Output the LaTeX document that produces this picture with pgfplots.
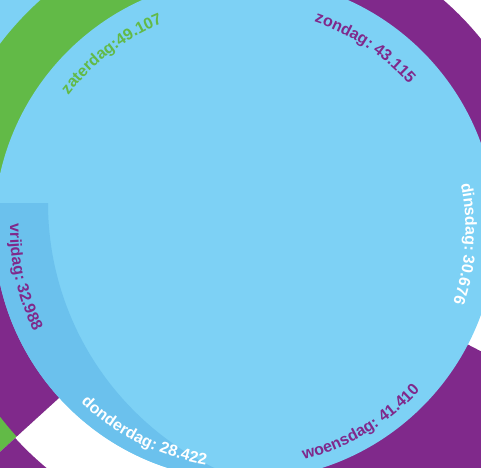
\documentclass[border=0pt]{standalone}
\usepackage{pgfplots}
\pgfplotsset{compat=1.18}
\usepackage{fontspec}
\setmainfont{Liberation Sans}
\usetikzlibrary{decorations.text}
\definecolor{lb}{RGB}{125,209,245}
\definecolor{db}{RGB}{107,193,237}
\definecolor{pu}{RGB}{128,41,139}
\definecolor{gr}{RGB}{98,186,71}
\newcommand{\labfont}{\fontsize{16}{18}\selectfont\bfseries}
% sector: colour, start angle, end angle, radius (pt), centred on the axis origin
\newcommand{\sector}[4]{\fill[#1, shift={(axis cs:0,0)}] (0pt,0pt) -- (#2:#4pt) arc[start angle=#2, end angle=#3, radius=#4pt] -- cycle;}
% label along an arc: colour, start angle, end angle, radius (pt), text
\newcommand{\arclabel}[5]{\path[shift={(axis cs:0,0)}, decorate, decoration={text along path, text align=center, text={|\color{#1}\labfont|#5}}] (#2:#4pt) arc[start angle=#2, end angle=#3, radius=#4pt];}
\begin{document}
\begin{tikzpicture}
\begin{axis}[x=1pt, y=1pt, xmin=-245, xmax=236, ymin=-238, ymax=229, hide axis, clip=true]
\addplot[draw=none, forget plot] coordinates {(0,0)};
% outer layers
\sector{lb}{90}{200}{700}
\sector{gr}{200}{222.3}{700}
\sector{pu}{222.3}{280}{700}
\sector{pu}{280}{332.6}{700}
% ring segments
\sector{gr}{90}{180}{307}
\sector{pu}{180}{222.3}{308.5}
\sector{white}{222.3}{280}{310.5}
\sector{pu}{-10}{90}{303}
% main disk
\fill[lb] (axis cs:0,0) circle[radius=251pt];
% darker band inside the disk
\begin{scope}
\clip (axis cs:0,0) circle[radius=251pt];
\fill[db, shift={(axis cs:97,26)}] (180:294pt) arc[start angle=180, end angle=300, radius=294pt] -- (300:694pt) arc[start angle=300, end angle=180, radius=694pt] -- cycle;
\end{scope}
% labels
\arclabel{pu}{96.5}{16.5}{218.5}{zondag: 43.115}
\arclabel{gr}{167.3}{87.3}{221.5}{zaterdag:49.107}
\arclabel{white}{36.15}{-43.85}{220.5}{dinsdag: 30.676}
\arclabel{pu}{-99.2}{-19.2}{238}{woensdag: 41.410}
\arclabel{white}{203.6}{283.6}{239}{donderdag: 28.422}
\arclabel{pu}{152.3}{232.3}{235}{vrijdag: 32.988}
\end{axis}
\pgfresetboundingbox
\path[use as bounding box] (current axis.south west) rectangle (current axis.north east);
\end{tikzpicture}
\end{document}
